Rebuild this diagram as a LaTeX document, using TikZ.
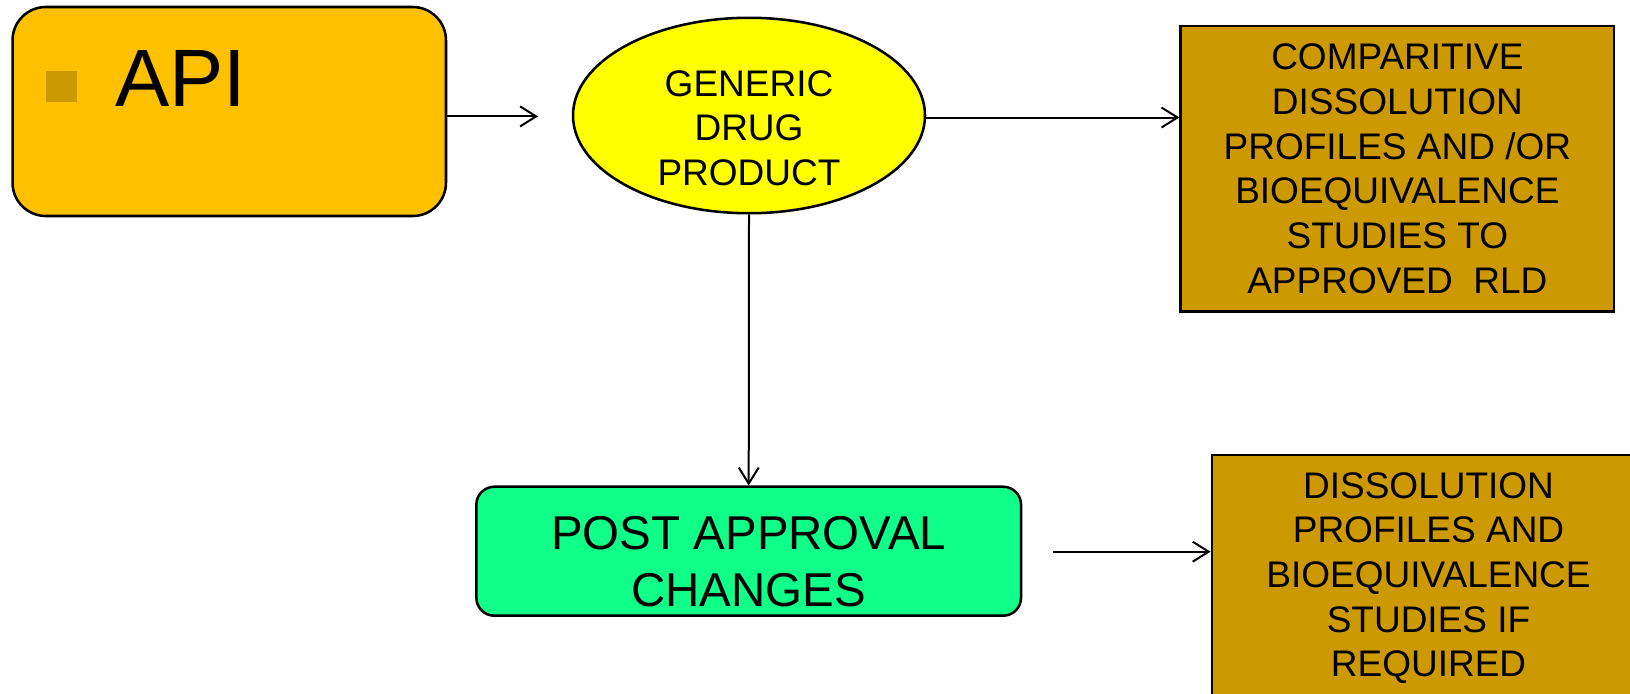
\documentclass[tikz,border=0pt]{standalone}
\usepackage{fontspec}
\setmainfont{Liberation Sans}
\usetikzlibrary{arrows.meta,shapes.geometric}
\definecolor{apigold}{HTML}{FFC000}
\definecolor{darkgold}{HTML}{CC9900}
\definecolor{genyellow}{HTML}{FFFF00}
\definecolor{postgreen}{HTML}{10FF88}
\tikzset{
  arr/.style={line width=1.5pt,-{Straight Barb[length=12pt,width=15pt,line width=1.5pt]}},
  boxline/.style={draw=black,line width=1.9pt},
  apibox/.style={boxline,fill=apigold,rounded corners=25pt,minimum width=325.1pt,minimum height=156.75pt,inner sep=0pt},
  genellipse/.style={boxline,fill=genyellow,ellipse,minimum width=264pt,minimum height=146.6pt,inner sep=0pt},
  midtext/.style={align=center,inner sep=0pt,font=\fontsize{27.75pt}{33.5pt}\selectfont},
  goldbox/.style={boxline,fill=darkgold,rectangle,minimum width=325pt,inner sep=0pt,align=center,font=\fontsize{27.75pt}{33.5pt}\selectfont},
  postbox/.style={boxline,fill=postgreen,rounded corners=13.5pt,minimum width=408.5pt,minimum height=96.75pt,inner sep=0pt},
  posttext/.style={align=center,inner sep=0pt,font=\fontsize{35.6pt}{42.75pt}\selectfont},
  bulletsq/.style={fill=darkgold,minimum size=23.25pt,inner sep=0pt},
  apitext/.style={inner sep=0pt,anchor=base west,font=\fontsize{61pt}{72pt}\selectfont}
}
\begin{document}
\begin{tikzpicture}[x=0.75pt,y=-0.75pt]
\useasboundingbox (0,0) rectangle (1630,693);
\clip (0,0) rectangle (1630,693);
% API box
\node[apibox] (api) at (229.25,111.5) {};
\node[bulletsq] (bul) at (61.7,86.2) {};
\node[apitext] (apit) at (115,106) {API};
% Generic drug product ellipse
\node[genellipse] (gen) at (749,115.5) {};
\node[midtext] (gent) at (749,128) {GENERIC\\DRUG\\PRODUCT};
% Comparitive box
\node[goldbox,minimum height=214.3pt] (comp) at (1397.35,168.85)
  {COMPARITIVE\\DISSOLUTION\\PROFILES AND /OR\\BIOEQUIVALENCE\\STUDIES TO\\APPROVED\ \ RLD};
% Post approval box
\node[postbox] (post) at (748.7,551.2) {};
\node[posttext] (postt) at (748.7,562) {POST APPROVAL\\CHANGES};
% Dissolution box
\node[goldbox,minimum height=184.5pt] (diss) at (1428.5,578)
  {DISSOLUTION\\PROFILES AND\\BIOEQUIVALENCE\\STUDIES IF\\REQUIRED};
% connectors
\coordinate (a1) at (538,116.4);
\draw[arr] (api.east |- a1) -- (a1);
\draw[arr] ([yshift=-1.5pt]gen.east) -- ([yshift=-1.5pt]gen.east -| comp.west);
\draw[arr] (gen.south) -- (post.north);
\coordinate (p1) at (1053,551.7);
\draw[arr] (p1) -- (p1 -| diss.west);
\end{tikzpicture}
\end{document}
